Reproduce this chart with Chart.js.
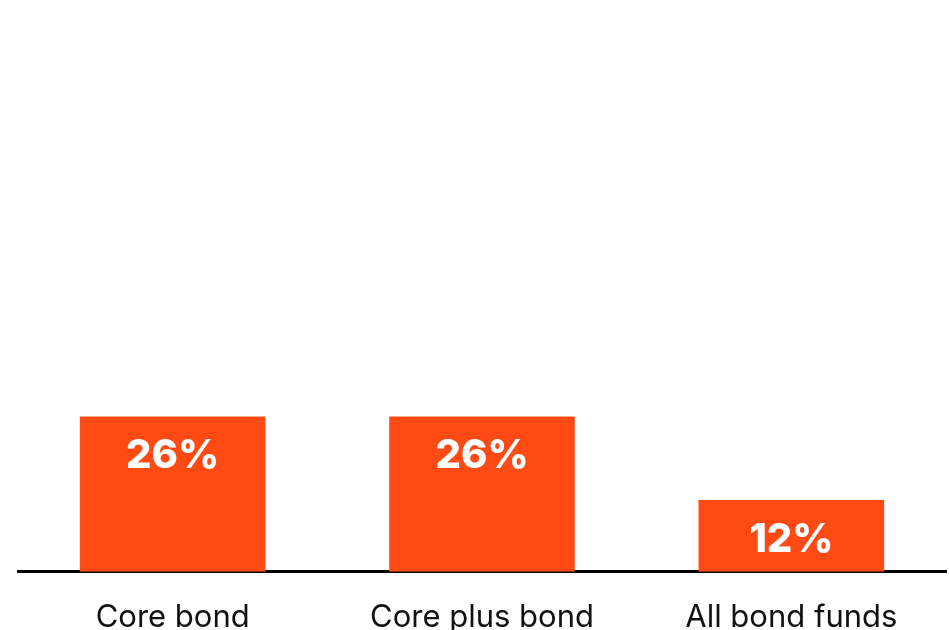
<!DOCTYPE html>
<html>
<head>
<meta charset="utf-8">
<script src="https://cdn.jsdelivr.net/npm/chart.js@4.4.0/dist/chart.umd.min.js"></script>
<style>
  html, body { margin: 0; padding: 0; background: #fff; }
  #wrap { width: 949px; height: 630px; }
</style>
</head>
<body>
<div id="wrap"><canvas id="bondChart"></canvas></div>
<script>
const categories = ['Core bond', 'Core plus bond', 'All bond funds'];
const shareValues = [26, 26, 12];
const barColor = '#FF4A14';

// Write the percentage inside each bar, near its top
const valueLabels = {
    id: 'valueLabels',
    afterDatasetsDraw(chart) {
        const ctx = chart.ctx;
        const meta = chart.getDatasetMeta(0);
        ctx.save();
        ctx.fillStyle = '#fff';
        ctx.font = '800 40px Inter, "Noto Sans", sans-serif';
        ctx.textAlign = 'center';
        ctx.textBaseline = 'middle';
        meta.data.forEach((bar, i) => {
            ctx.fillText(shareValues[i] + '%', bar.x, bar.y + 40);
        });
        ctx.restore();
    }
};

new Chart(document.getElementById('bondChart'), {
    type: 'bar',
    data: {
        labels: categories,
        datasets: [{
            data: shareValues,
            backgroundColor: barColor,
            barPercentage: 0.6,
            categoryPercentage: 1
        }]
    },
    options: {
        responsive: true,
        maintainAspectRatio: false,
        animation: false,
        layout: { padding: { top: 10, left: 18, right: 3, bottom: -33 } },
        plugins: {
            legend: { display: false },
            tooltip: { enabled: false }
        },
        scales: {
            x: {
                grid: { display: false, drawTicks: false },
                border: { display: true, width: 3, color: '#000' },
                ticks: {
                    color: '#111',
                    padding: 27,
                    font: { family: 'Inter, "Noto Sans", sans-serif', size: 31 }
                }
            },
            y: {
                display: false,
                min: 0,
                max: 94
            }
        }
    },
    plugins: [valueLabels]
});
</script>
</body>
</html>
